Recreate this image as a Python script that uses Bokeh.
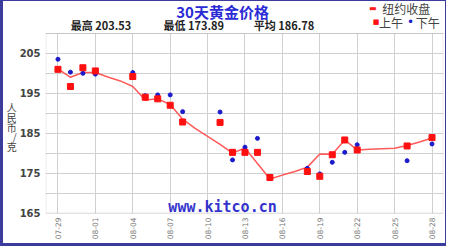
import math
from bokeh.plotting import figure
from bokeh.models import FixedTicker, Label, Range1d, BoxAnnotation
from bokeh.embed import file_html
from bokeh.resources import INLINE

# ---- data ----
dates = ["07-29", "07-30", "07-31", "08-01", "08-02", "08-03", "08-04", "08-05",
         "08-06", "08-07", "08-08", "08-09", "08-10", "08-11", "08-12", "08-13",
         "08-14", "08-15", "08-16", "08-17", "08-18", "08-19", "08-20", "08-21",
         "08-22", "08-23", "08-24", "08-25", "08-26", "08-27", "08-28"]
ny_close = [201.1, 199.0, 200.2, 200.2, 199.1, 198.1, 196.7, 193.3, 193.6, 192.2,
            188.5, 186.2, 184.2, 182.2, 180.0, 181.3, 177.4, 173.5, 174.5, 175.4,
            176.5, 179.8, 179.7, 183.3, 180.8, 181.0, 181.1, 181.2, 181.9, 182.8,
            183.8]
session_days = [0, 1, 2, 3, 6, 7, 8, 9, 10, 13, 14, 15, 16, 17, 20, 21, 22, 23, 24, 28, 30]
am_price = [201.0, 196.7, 201.4, 200.6, 199.2, 194.0, 193.6, 192.0, 187.8, 187.7,
            180.2, 180.2, 180.2, 173.89, 175.4, 174.2, 179.6, 183.3, 180.8, 181.8, 183.9]
pm_price = [203.53, 200.3, 200.0, 199.8, 200.2, 194.4, 194.6, 194.6, 190.4, 190.3,
            178.3, 181.5, 183.7, 174.0, 176.2, 174.8, 177.7, 180.2, 182.1, 178.1, 182.3]
tick_days = [0, 3, 6, 9, 12, 15, 18, 21, 24, 27, 30]
y_ticks = [165, 175, 185, 195, 205]
y_minor = [170, 180, 190, 200, 210]
y_low, y_high = 165, 210
title_text = "30天黄金价格"
stats = [("最高", "203.53"), ("最低", "173.89"), ("平均", "186.78")]
unit_text = "人\n民\n币\n/\n克"

day_index = list(range(len(dates)))

p = figure(width=446, height=246, x_range=Range1d(-1.0, 30.92), y_range=Range1d(164.875, 218),
           output_backend="svg", toolbar_location=None,
           min_border_left=42, min_border_right=6, min_border_top=0, min_border_bottom=34)
p.styles = {"border-style": "solid", "border-color": "#3c3c9c",
            "border-width": "1px 1px 3px 3px"}
p.background_fill_color = "white"
p.border_fill_color = "white"
p.outline_line_color = None

# axes
p.xaxis.ticker = FixedTicker(ticks=tick_days)
p.xaxis.major_label_overrides = {d: dates[d] for d in tick_days}
p.xaxis.major_label_orientation = math.pi / 2
p.xaxis.major_label_text_font = "DejaVu Sans"
p.xaxis.major_label_text_font_size = "7.5px"
p.xaxis.major_label_text_color = "#777777"
p.xaxis.major_label_standoff = 4
p.yaxis.ticker = FixedTicker(ticks=y_ticks, minor_ticks=y_minor)
p.yaxis.major_label_text_font = "DejaVu Sans"
p.yaxis.major_label_text_font_style = "bold"
p.yaxis.major_label_text_font_size = "10px"
p.yaxis.major_label_text_color = "#444444"
p.yaxis.major_label_standoff = 5
for ax in (p.xaxis, p.yaxis):
    ax.axis_line_color = None
    ax.major_tick_line_color = None
    ax.minor_tick_line_color = None
    ax.major_tick_out = 0
    ax.major_tick_in = 0
    ax.minor_tick_out = 0
    ax.minor_tick_in = 0

yax = p.yaxis[0]
if "axis_label_orientation" in yax.properties():
    yax.axis_label = " \n \n \n \n" + unit_text
    yax.axis_label_orientation = "horizontal"
    yax.axis_label_text_line_height = 0.65
else:
    yax.axis_label = unit_text.replace("\n", "")
yax.axis_label_text_font = "Noto Sans CJK SC"
yax.axis_label_text_font_style = "normal"
yax.axis_label_text_font_size = "10px"
yax.axis_label_text_color = "#444444"
yax.axis_label_standoff = 0

grid_color = "#d0d0d0"
p.ygrid.grid_line_color = grid_color
p.ygrid.minor_grid_line_color = grid_color
xg = p.xgrid[0]
if "cross_bounds" in xg.properties():
    xg.cross_bounds = (y_low, y_high)
    xg.grid_line_color = grid_color
else:
    xg.grid_line_color = None
    p.segment(x0=tick_days, y0=[y_low] * len(tick_days), x1=tick_days,
              y1=[y_high] * len(tick_days), line_color=grid_color, line_width=1)

# plot box
p.add_layout(BoxAnnotation(left=-0.96, right=30.88, bottom=y_low, top=y_high,
                           fill_alpha=0, line_color="#b4b4b4", line_width=1))

# watermark
p.add_layout(Label(x=13.2, y=166.6, text="www.kitco.cn", text_align="center",
                   text_baseline="middle", text_font="DejaVu Sans Mono",
                   text_font_style="bold", text_font_size="15px", text_color="#3333cc"))

# series
p.line(day_index, ny_close, line_color="#ff5a5a", line_width=1.5)
p.scatter(session_days, pm_price, marker="circle", size=4, fill_color="#1a1acc",
          line_color="#1a1acc")
p.scatter(session_days, am_price, marker="square", size=6, fill_color="#ff1010",
          line_color="#ff1010")

def lab(x, y, text, **kw):
    opts = dict(x=x, y=y, text=text, text_font="Noto Sans CJK SC", text_font_size="11px",
                text_color="#333333", text_baseline="middle")
    opts.update(kw)
    p.add_layout(Label(**opts))

lab(13.2, 215.5, title_text, text_align="center", text_font_size="15px",
    text_font_style="bold", text_color="#2b2bd6")
for (name, val), dx in zip(stats, [1.02, 8.47, 15.7]):
    lab(dx, 212.0, name + " " + val, text_font_style="bold", text_color="#222222")

# legend
lab(24.95, 216.25, "▬", text_color="#ff2020", text_font="DejaVu Sans", text_font_size="8px")
lab(26.0, 216.25, "纽约收盘", text_font_size="12px", text_color="#444444")
lab(25.25, 212.75, "■", text_color="#ff1010", text_font="DejaVu Sans", text_font_size="7px")
lab(25.75, 212.75, "上午", text_font_size="12px", text_color="#444444")
lab(28.0, 212.75, "•", text_color="#1a1acc", text_font="DejaVu Sans", text_font_size="12px")
lab(28.7, 212.75, "下午", text_font_size="12px", text_color="#444444")

open("out.html", "w").write(file_html(p, INLINE))
